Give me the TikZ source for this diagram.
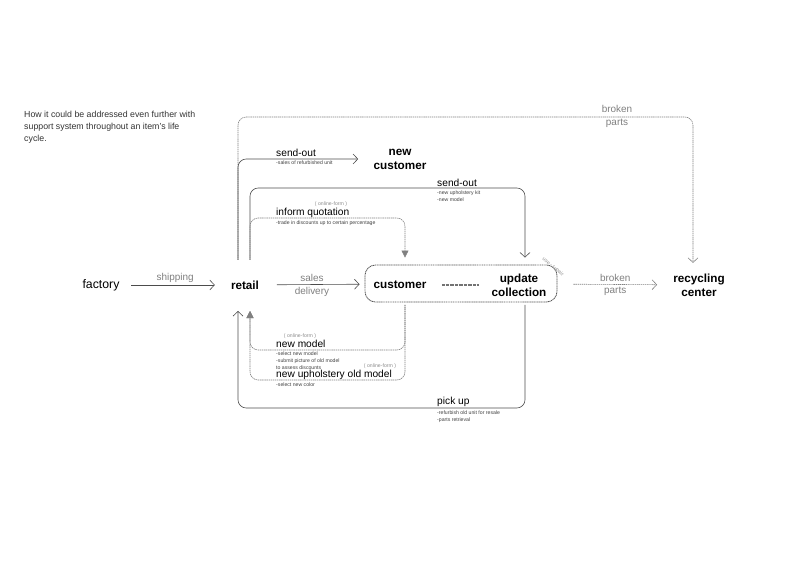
\documentclass[tikz,border=0pt]{standalone}
\usepackage{fontspec}
\setmainfont{Liberation Sans}
\usetikzlibrary{arrows.meta}

\begin{document}
\begin{tikzpicture}[x=0.03cm, y=-0.03cm,
  place/.style={font=\fontsize{10.5}{13}\selectfont, inner sep=0pt},
  stop/.style={font=\fontsize{10}{12}\selectfont\bfseries, align=center, inner sep=0pt},
  flow/.style={font=\fontsize{8.5}{11}\selectfont, color=black!50, align=center, inner sep=0pt},
  act/.style={font=\fontsize{8.7}{10}\selectfont, anchor=west, inner sep=0pt},
  note/.style={font=\fontsize{4.4}{6}\selectfont, anchor=north west, align=left, inner sep=0pt, color=black!75},
  form/.style={font=\fontsize{4.4}{5}\selectfont, color=black!45, inner sep=0pt},
  solidline/.style={draw=black!70, line width=0.5pt},
  dotline/.style={draw=black!50, line width=0.5pt, dash pattern=on 1.2pt off 0.6pt},
  openhead/.style={-{Straight Barb[length=4pt,width=8.5pt]}},
  fullhead/.style={-{Triangle[length=6pt,width=6pt]}}]
\useasboundingbox (0,0) rectangle (804,569);

\node[anchor=north west, font=\fontsize{7.5}{10.2}\selectfont, align=left, color=black!80, inner sep=0pt] (intro) at (24,111) {How it could be addressed even further with\\support system throughout an item's life\\cycle.};

\node[place] (factory) at (101,285) {factory};
\node[stop] (retail) at (245,285) {retail};
\node[stop] (customer) at (400,285) {customer};
\node[stop] (update) at (519,285) {update\\collection};
\node[stop] (recycling) at (699,285) {recycling\\center};
\node[stop] (newcustomer) at (400,159) {new\\customer};
\node[draw=black!65, line width=0.7pt, dash pattern=on 1pt off 0.5pt, rounded corners=9pt, minimum width=5.76cm, minimum height=1.11cm] (box) at (461,283.5) {};
\node[form, rotate=-40] (userepair) at (553,267) {use - repair};

\coordinate (upA) at (238,260);
\coordinate (upB) at (250,260);
\coordinate (downA) at (238,311);
\coordinate (downB) at (250,311);
\coordinate (brk) at (693,117);
\coordinate (kit) at (525,188);
\coordinate (quote) at (405,218);
\coordinate (pick) at (525,408);
\coordinate (model) at (405,350);
\coordinate (color) at (405,380);

\draw[solidline, openhead, shorten <=9.8pt, shorten >=13.6pt] (factory) -- node[flow, above=2pt] (shipping) {shipping} (retail);
\draw[solidline, openhead, shorten <=15pt, shorten >=4.3pt] (retail) -- node[flow, above=2pt] (sales) {sales} node[flow, below=2pt] (delivery) {delivery} (box);
\draw[dotline, openhead, shorten <=13.6pt, shorten >=13.6pt] (box) -- node[flow, above=2pt] (broken) {broken} node[flow, below=2pt] (parts) {parts} (recycling);
\draw[line width=2pt, black!55, dash pattern=on 0.5pt off 0.6pt, shorten <=13pt, shorten >=11.5pt] (customer) -- (update);

\draw[dotline, openhead, rounded corners=7pt, shorten >=9pt] (upA) |- (brk) -- (brk |- recycling.north);
\node[flow] (brokenparts) at (617,116.5) {broken\\parts};
\draw[solidline, openhead, rounded corners=7pt, shorten >=13pt] (upA) |- (newcustomer.west);
\draw[solidline, openhead, rounded corners=7pt, shorten >=6pt] (upB) |- (kit) -- (kit |- box.north);
\draw[dotline, fullhead, rounded corners=7pt, shorten >=6pt] (upB) |- (quote) -- (quote |- box.north);
\draw[solidline, openhead, rounded corners=7pt, shorten <=2pt] (pick |- box.south) -- (pick) -| (downA);
\draw[dotline, fullhead, rounded corners=7pt, shorten <=2pt] (model |- box.south) -- (model) -| (downB);
\draw[dotline, fullhead, rounded corners=7pt, shorten <=2pt] (color |- box.south) -- (color) -| (downB);

\node[act] (sendoutA) at (276,153) {send-out};
\node[note] (sendoutAnote) at (276,161) {-sales of refurbished unit};
\node[act] (sendoutB) at (437,183) {send-out};
\node[note] (sendoutBnote) at (437,190.5) {-new upholstery kit\\-new model};
\node[form] (formA) at (331,204) {( online-form )};
\node[act] (inform) at (276,213) {inform quotation};
\node[note] (informnote) at (276,220.5) {-trade in discounts up to certain percentage};
\node[form] (formB) at (300,336) {( online-form )};
\node[act] (newmodel) at (276,344) {new model};
\node[note] (newmodelnote) at (276,351.5) {-select new model\\-submit picture of old model\\to assess discounts};
\node[form] (formC) at (380,366) {( online-form )};
\node[act] (upholstery) at (276,375) {new upholstery old model};
\node[note] (upholsterynote) at (276,383) {-select new color};
\node[act] (pickup) at (437,402) {pick up};
\node[note] (pickupnote) at (437,411) {-refurbish old unit for resale\\-parts retrieval};
\end{tikzpicture}
\end{document}
